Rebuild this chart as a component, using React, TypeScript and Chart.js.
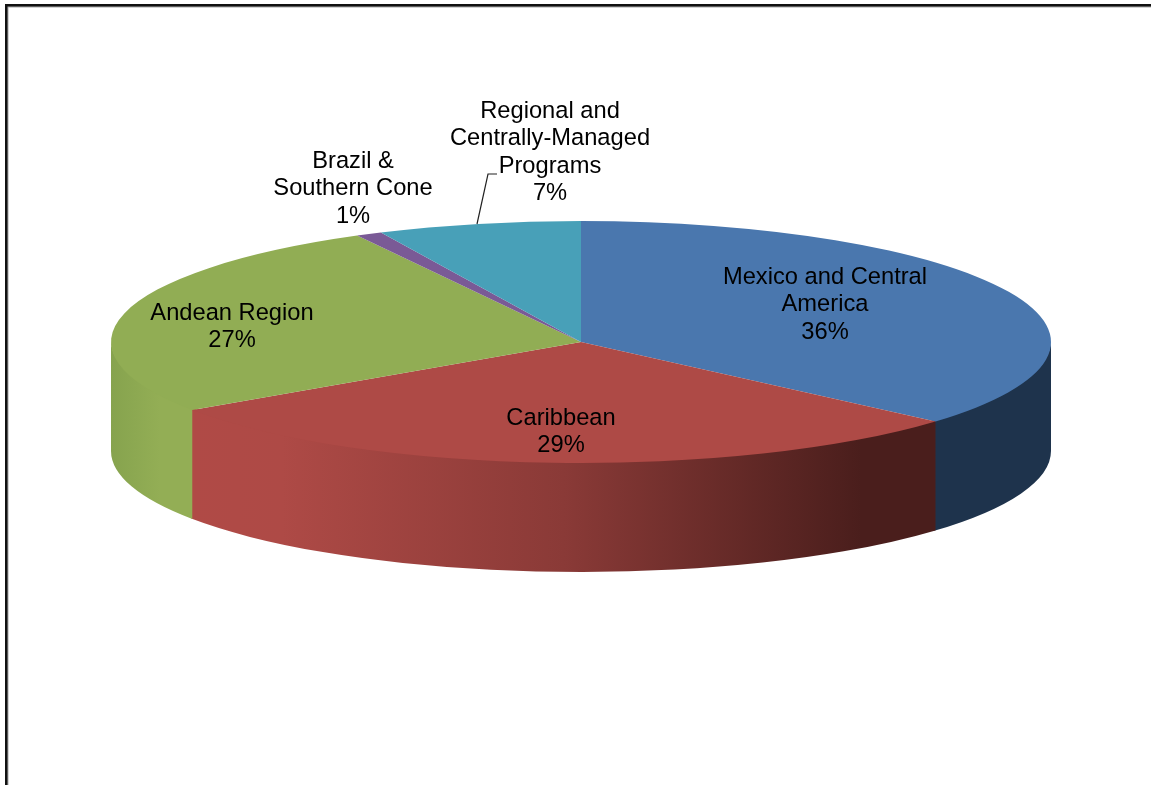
import React, { useEffect, useRef } from "react";
import { Chart, registerables } from "chart.js";

Chart.register(...registerables);

const categories = [
  "Mexico and Central America",
  "Caribbean",
  "Andean Region",
  "Brazil & Southern Cone",
  "Regional and Centrally-Managed Programs",
];
const shares = [36.4, 29.1, 26.6, 0.9, 7];
const shownPercents = [36, 29, 27, 1, 7];
const labelLines = [
  ["Mexico and Central", "America"],
  ["Caribbean"],
  ["Andean Region"],
  ["Brazil &", "Southern Cone"],
  ["Regional and", "Centrally-Managed", "Programs"],
];

const topColors = ["#4a77ae", "#ae4a46", "#91ad54", "#7a5a96", "#48a0b8"];
const wallStops: [number, string][][] = [
  [[0, "#1e334c"], [1, "#1e334c"]],
  [[0, "#b04a46"], [0.12, "#ae4a46"], [0.5, "#8a3a37"], [0.9, "#4a1e1c"], [1, "#4a1e1c"]],
  [[0, "#86a34e"], [0.6, "#93ae55"], [1, "#93ae55"]],
  [[0, "#5a4270"], [1, "#5a4270"]],
  [[0, "#2f7080"], [1, "#2f7080"]],
];

const WIDTH = 1151;
const HEIGHT = 785;
const RADIUS = 470;
const SQUASH = 121 / 470;
const DEPTH = 109;
const CENTER_X = 581;
const CENTER_Y = 342;
const FONT = '23.7px "Liberation Sans", Arial, sans-serif';
const LINE_HEIGHT = 27.5;
const labelCenters = [
  [825, 277],
  [561, 418],
  [232, 313],
  [353, 161],
  [550, 111],
];
const leader = [
  [477, 224],
  [488, 174],
  [497, 174],
];

const pie3d = {
  id: "pie3d",
  beforeDraw(chart: any) {
    const ctx = chart.ctx;
    ctx.save();
    ctx.fillStyle = "#ffffff";
    ctx.fillRect(0, 0, WIDTH, HEIGHT);
    ctx.fillStyle = "#a8a8a8";
    ctx.fillRect(5, 4, 3.5, HEIGHT);
    ctx.fillRect(5, 4, WIDTH, 3.5);
    ctx.fillStyle = "#111111";
    ctx.fillRect(5, 4, 2.5, HEIGHT);
    ctx.fillRect(5, 4, WIDTH, 2.5);
    ctx.restore();
  },
  beforeDatasetsDraw(chart: any) {
    const ctx = chart.ctx;
    const arcs = chart.getDatasetMeta(0).data;
    arcs.forEach((el: any, i: number) => {
      const { x, y, startAngle, endAngle, outerRadius } = el.getProps([
        "x",
        "y",
        "startAngle",
        "endAngle",
        "outerRadius",
      ]);
      const s = Math.max(startAngle, 0);
      const e = Math.min(endAngle, Math.PI);
      if (e <= s) return;
      const rx = outerRadius;
      const ry = outerRadius * SQUASH;
      const x0 = x + rx * Math.cos(s);
      const x1 = x + rx * Math.cos(e);
      const g = ctx.createLinearGradient(Math.min(x0, x1), 0, Math.max(x0, x1), 0);
      wallStops[i].forEach(([at, colour]) => g.addColorStop(at, colour));
      // a small overlap hides the seams: the next wall and the top face cover it
      const eOver = Math.min(e + 0.004, Math.PI);
      ctx.save();
      ctx.beginPath();
      ctx.ellipse(x, y - 2, rx, ry, 0, s, eOver, false);
      ctx.ellipse(x, y + DEPTH, rx, ry, 0, eOver, s, true);
      ctx.closePath();
      ctx.fillStyle = g;
      ctx.fill();
      ctx.restore();
    });
    ctx.save();
    ctx.translate(CENTER_X, CENTER_Y);
    ctx.scale(1, SQUASH);
    ctx.translate(-CENTER_X, -CENTER_Y);
  },
  afterDatasetsDraw(chart: any) {
    const ctx = chart.ctx;
    ctx.restore();
    ctx.save();
    ctx.strokeStyle = "#222222";
    ctx.lineWidth = 1.2;
    ctx.beginPath();
    leader.forEach(([px, py], i) => (i ? ctx.lineTo(px, py) : ctx.moveTo(px, py)));
    ctx.stroke();
    ctx.fillStyle = "#000000";
    ctx.font = FONT;
    ctx.textAlign = "center";
    ctx.textBaseline = "middle";
    labelLines.forEach((lines, i) => {
      const [cx, cy] = labelCenters[i];
      [...lines, `${shownPercents[i]}%`].forEach((t, j) => {
        ctx.fillText(t, cx, cy + j * LINE_HEIGHT);
      });
    });
    ctx.restore();
  },
};

export default function App() {
  const ref = useRef<HTMLCanvasElement | null>(null);
  useEffect(() => {
    if (!ref.current) return;
    const chart = new Chart(ref.current, {
      type: "pie",
      data: {
        labels: categories,
        datasets: [
          {
            data: shares,
            backgroundColor: topColors,
            borderWidth: 0,
            clip: false,
          } as any,
        ],
      },
      options: {
        responsive: false,
        animation: false,
        devicePixelRatio: 1,
        radius: RADIUS,
        layout: {
          padding: {
            left: 2 * CENTER_X - WIDTH,
            right: 0,
            top: 0,
            bottom: HEIGHT - 2 * CENTER_Y,
          },
        },
        plugins: { legend: { display: false }, tooltip: { enabled: false } },
      } as any,
      plugins: [pie3d],
    });
    return () => chart.destroy();
  }, []);
  return (
    <div style={{ position: "fixed", left: 0, top: 0, width: WIDTH, height: HEIGHT, overflow: "hidden" }}>
      <canvas ref={ref} width={WIDTH} height={HEIGHT} style={{ display: "block", filter: "blur(0.5px)" }} />
    </div>
  );
}
